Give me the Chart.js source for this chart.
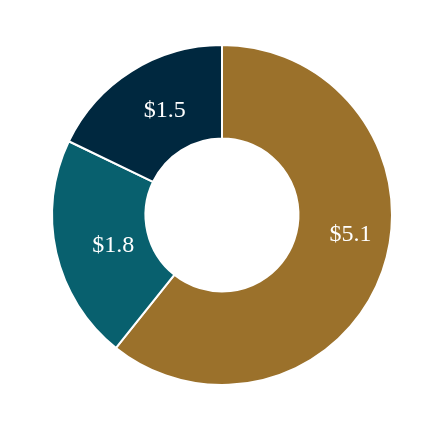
<!DOCTYPE html>
<html>
<head>
<meta charset="utf-8">
<script src="https://cdn.jsdelivr.net/npm/chart.js@4/dist/chart.umd.min.js"></script>
<style>
    html, body { margin: 0; padding: 0; background: #ffffff; }
    #wrap { width: 442px; height: 430px; }
</style>
</head>
<body>
<div id="wrap"><canvas id="donut-chart" width="442" height="430"></canvas></div>
<script>
const categories = ['A', 'B', 'C'];
const values = [5.1, 1.8, 1.5];
const valueLabels = ['$5.1', '$1.8', '$1.5'];
const sliceColors = ['#9b712b', '#08606e', '#00283f'];

// label placement: angle (deg, clockwise from top) and distance from centre
const labelAngles = [98.8, 254.1, 331.3];
const labelRadii = [130, 113, 119];

const sliceLabels = {
    id: 'sliceLabels',
    afterDatasetsDraw(chart) {
        const ctx = chart.ctx;
        const arc = chart.getDatasetMeta(0).data[0];
        const cx = arc.x;
        const cy = arc.y;
        ctx.save();
        ctx.fillStyle = '#ffffff';
        ctx.font = '24px "Liberation Serif", "Times New Roman", serif';
        ctx.textAlign = 'center';
        ctx.textBaseline = 'middle';
        valueLabels.forEach((txt, i) => {
            const a = labelAngles[i] * Math.PI / 180;
            const x = cx + Math.sin(a) * labelRadii[i];
            const y = cy - Math.cos(a) * labelRadii[i];
            ctx.fillText(txt, x, y);
        });
        ctx.restore();
    }
};

new Chart(document.getElementById('donut-chart'), {
    type: 'doughnut',
    data: {
        labels: categories,
        datasets: [{
            data: values,
            backgroundColor: sliceColors,
            borderColor: '#ffffff',
            borderWidth: 2
        }]
    },
    options: {
        responsive: false,
        animation: false,
        cutout: '45%',
        layout: {
            padding: { left: 51, right: 49, top: 44, bottom: 44 }
        },
        plugins: {
            legend: { display: false },
            tooltip: { enabled: false }
        }
    },
    plugins: [sliceLabels]
});
</script>
</body>
</html>
